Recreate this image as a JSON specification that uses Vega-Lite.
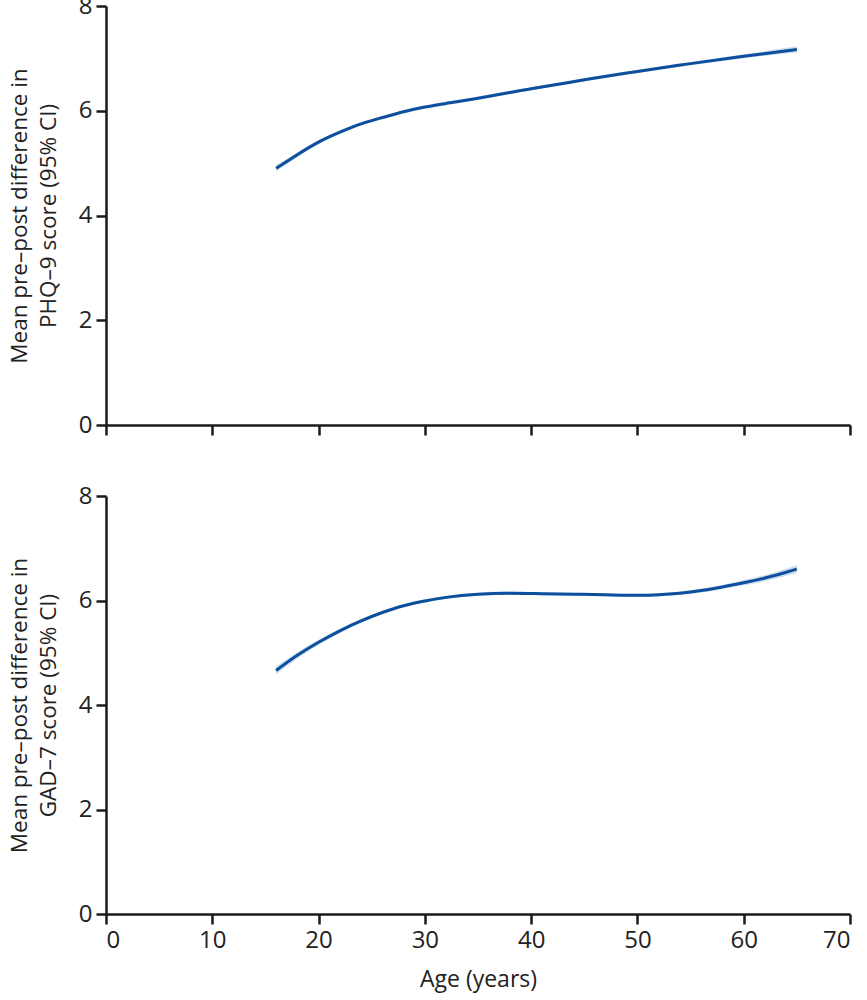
{
  "$schema": "https://vega.github.io/schema/vega-lite/v6.json",
  "background": "white",
  "padding": {"left": 8, "top": -6, "right": 5, "bottom": 5},
  "spacing": 47,
  "config": {
    "view": {"stroke": null},
    "font": "Open Sans",
    "axis": {
      "domainColor": "#1a1a1a", "domainWidth": 2.5,
      "tickColor": "#1a1a1a", "tickWidth": 2.5, "tickSize": 10,
      "labelFont": "Open Sans", "labelFontSize": 24, "labelColor": "#222222", "labelPadding": 4,
      "titleFont": "Open Sans", "titleFontSize": 22.5, "titleFontWeight": "normal", "titleColor": "#222222",
      "grid": false
    }
  },
  "datasets": {
    "phq": [
      {"age": 16, "mean": 4.90, "lo": 4.84, "hi": 4.96},
      {"age": 18, "mean": 5.16, "lo": 5.11, "hi": 5.21},
      {"age": 20, "mean": 5.40, "lo": 5.36, "hi": 5.44},
      {"age": 22, "mean": 5.59, "lo": 5.55, "hi": 5.63},
      {"age": 24, "mean": 5.75, "lo": 5.72, "hi": 5.78},
      {"age": 26, "mean": 5.87, "lo": 5.84, "hi": 5.90},
      {"age": 28, "mean": 5.98, "lo": 5.95, "hi": 6.01},
      {"age": 30, "mean": 6.07, "lo": 6.04, "hi": 6.10},
      {"age": 32, "mean": 6.14, "lo": 6.11, "hi": 6.17},
      {"age": 35, "mean": 6.24, "lo": 6.21, "hi": 6.27},
      {"age": 38, "mean": 6.35, "lo": 6.32, "hi": 6.38},
      {"age": 40, "mean": 6.42, "lo": 6.39, "hi": 6.45},
      {"age": 45, "mean": 6.59, "lo": 6.56, "hi": 6.62},
      {"age": 50, "mean": 6.75, "lo": 6.72, "hi": 6.78},
      {"age": 55, "mean": 6.90, "lo": 6.87, "hi": 6.93},
      {"age": 60, "mean": 7.04, "lo": 7.00, "hi": 7.08},
      {"age": 65, "mean": 7.17, "lo": 7.11, "hi": 7.23}
    ],
    "gad": [
      {"age": 16, "mean": 4.66, "lo": 4.58, "hi": 4.74},
      {"age": 18, "mean": 4.95, "lo": 4.89, "hi": 5.01},
      {"age": 20, "mean": 5.20, "lo": 5.15, "hi": 5.25},
      {"age": 22, "mean": 5.42, "lo": 5.38, "hi": 5.46},
      {"age": 24, "mean": 5.61, "lo": 5.57, "hi": 5.65},
      {"age": 26, "mean": 5.77, "lo": 5.74, "hi": 5.80},
      {"age": 28, "mean": 5.90, "lo": 5.87, "hi": 5.93},
      {"age": 30, "mean": 5.99, "lo": 5.96, "hi": 6.02},
      {"age": 32, "mean": 6.06, "lo": 6.03, "hi": 6.09},
      {"age": 35, "mean": 6.12, "lo": 6.09, "hi": 6.15},
      {"age": 38, "mean": 6.14, "lo": 6.11, "hi": 6.17},
      {"age": 41, "mean": 6.13, "lo": 6.10, "hi": 6.16},
      {"age": 44, "mean": 6.12, "lo": 6.09, "hi": 6.15},
      {"age": 47, "mean": 6.11, "lo": 6.08, "hi": 6.14},
      {"age": 50, "mean": 6.10, "lo": 6.07, "hi": 6.13},
      {"age": 52, "mean": 6.11, "lo": 6.08, "hi": 6.14},
      {"age": 54, "mean": 6.14, "lo": 6.11, "hi": 6.17},
      {"age": 56, "mean": 6.19, "lo": 6.15, "hi": 6.23},
      {"age": 58, "mean": 6.26, "lo": 6.22, "hi": 6.30},
      {"age": 60, "mean": 6.34, "lo": 6.29, "hi": 6.39},
      {"age": 62, "mean": 6.43, "lo": 6.37, "hi": 6.49},
      {"age": 64, "mean": 6.54, "lo": 6.47, "hi": 6.61},
      {"age": 65, "mean": 6.60, "lo": 6.52, "hi": 6.68}
    ]
  },
  "vconcat": [
    {
      "width": 744,
      "height": 419,
      "data": {"name": "phq"},
      "layer": [
        {
          "mark": {"type": "area", "color": "#c9dbf0", "opacity": 0.9, "interpolate": "natural"},
          "encoding": {
            "x": {"field": "age", "type": "quantitative", "scale": {"domain": [0, 70], "nice": false}, "axis": {"values": [0, 10, 20, 30, 40, 50, 60, 70], "labels": false, "title": null}},
            "y": {"field": "lo", "type": "quantitative", "scale": {"domain": [0, 8], "nice": false}, "axis": {"values": [0, 2, 4, 6, 8], "title": ["Mean pre–post difference in", "PHQ–9 score (95% CI)"], "titlePadding": 18, "titleLineHeight": 29}},
            "y2": {"field": "hi"}
          }
        },
        {
          "mark": {"type": "line", "color": "#0d4f9c", "strokeWidth": 3, "interpolate": "natural"},
          "encoding": {
            "x": {"field": "age", "type": "quantitative", "scale": {"domain": [0, 70], "nice": false}, "axis": {"values": [0, 10, 20, 30, 40, 50, 60, 70], "labels": false, "title": null}},
            "y": {"field": "mean", "type": "quantitative", "scale": {"domain": [0, 8], "nice": false}, "axis": {"values": [0, 2, 4, 6, 8], "title": ["Mean pre–post difference in", "PHQ–9 score (95% CI)"], "titlePadding": 18, "titleLineHeight": 29}}
          }
        }
      ]
    },
    {
      "width": 744,
      "height": 418,
      "data": {"name": "gad"},
      "layer": [
        {
          "mark": {"type": "area", "color": "#c9dbf0", "opacity": 0.9, "interpolate": "natural"},
          "encoding": {
            "x": {"field": "age", "type": "quantitative", "scale": {"domain": [0, 70], "nice": false}, "axis": {"values": [0, 10, 20, 30, 40, 50, 60, 70], "title": "Age (years)", "titleFontSize": 23, "titlePadding": 16}},
            "y": {"field": "lo", "type": "quantitative", "scale": {"domain": [0, 8], "nice": false}, "axis": {"values": [0, 2, 4, 6, 8], "title": ["Mean pre–post difference in", "GAD–7 score (95% CI)"], "titlePadding": 18, "titleLineHeight": 29}},
            "y2": {"field": "hi"}
          }
        },
        {
          "mark": {"type": "line", "color": "#0d4f9c", "strokeWidth": 3, "interpolate": "natural"},
          "encoding": {
            "x": {"field": "age", "type": "quantitative", "scale": {"domain": [0, 70], "nice": false}, "axis": {"values": [0, 10, 20, 30, 40, 50, 60, 70], "title": "Age (years)", "titleFontSize": 23, "titlePadding": 16}},
            "y": {"field": "mean", "type": "quantitative", "scale": {"domain": [0, 8], "nice": false}, "axis": {"values": [0, 2, 4, 6, 8], "title": ["Mean pre–post difference in", "GAD–7 score (95% CI)"], "titlePadding": 18, "titleLineHeight": 29}}
          }
        }
      ]
    }
  ]
}
